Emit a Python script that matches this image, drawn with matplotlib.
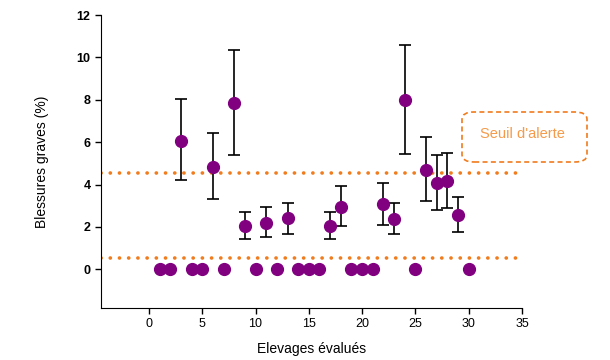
import matplotlib
matplotlib.use("Agg")
import matplotlib.pyplot as plt
from matplotlib.patches import FancyBboxPatch

# farms with a measured rate (mean and error bar bounds)
elevages = [3, 6, 8, 9, 11, 13, 17, 18, 22, 23, 24, 26, 27, 28, 29]
blessures = [6.05, 4.82, 7.85, 2.05, 2.2, 2.43, 2.05, 2.95, 3.1, 2.38, 8.0, 4.7, 4.08, 4.18, 2.58]
err_haut = [8.05, 6.45, 10.35, 2.72, 2.95, 3.15, 2.72, 3.92, 4.08, 3.15, 10.6, 6.25, 5.4, 5.5, 3.42]
err_bas = [4.2, 3.3, 5.38, 1.42, 1.5, 1.65, 1.42, 2.02, 2.08, 1.65, 5.45, 3.2, 2.78, 2.88, 1.75]

# farms with no severe injuries
elevages_zero = [1, 2, 4, 5, 7, 10, 12, 14, 15, 16, 19, 20, 21, 25, 30]
blessures_zero = [0] * len(elevages_zero)

seuil_haut = 4.55
seuil_bas = 0.52

plt.rcParams['font.family'] = ['Liberation Sans', 'DejaVu Sans']

fig = plt.figure(figsize=(6.1, 3.6), dpi=100)
ax = fig.add_axes([0.1656, 0.1444, 0.6901, 0.8139])

orange = '#F07C1E'
violet = '#800080'

ax.axhline(seuil_haut, color=orange, lw=2.6, linestyle=(0, (0.05, 2.5)),
           dash_capstyle='round', zorder=1)
ax.axhline(seuil_bas, color=orange, lw=2.6, linestyle=(0, (0.05, 2.5)),
           dash_capstyle='round', zorder=1)

yerr = [[m - b for m, b in zip(blessures, err_bas)],
        [h - m for m, h in zip(blessures, err_haut)]]
ax.errorbar(elevages, blessures, yerr=yerr, fmt='o', color=violet, ms=8.5,
            ecolor='black', elinewidth=1.2, capsize=4.5, capthick=1.2, zorder=3)
ax.plot(elevages_zero, blessures_zero, 'o', color=violet, ms=8.5, zorder=3)

ax.set_xlim(-4.5, 35)
ax.set_ylim(-1.83, 12)
ax.set_xticks(range(0, 36, 5))
ax.set_yticks(range(0, 13, 2))
for s in ['top', 'right']:
    ax.spines[s].set_visible(False)
ax.tick_params(direction='out', length=4, width=1, labelsize=9)
for lab in ax.get_yticklabels():
    lab.set_fontweight('bold')

ax.set_xlabel('Elevages évalués', fontsize=10, labelpad=8)
ax.set_ylabel('Blessures graves (%)', fontsize=10, labelpad=20)

# legend box for the threshold
box = FancyBboxPatch((462 / 610, 1 - 162 / 360), 125 / 610, 50 / 360,
                     boxstyle='round,pad=0,rounding_size=0.02',
                     transform=fig.transFigure, fill=False,
                     edgecolor=orange, lw=1.2, linestyle=(0, (3, 2)))
fig.add_artist(box)
fig.text(522 / 610, 1 - 134 / 360, "Seuil d'alerte", color='#F59A4A',
         fontsize=10.5, ha='center', va='center')

fig.savefig('out.png', dpi=100)
